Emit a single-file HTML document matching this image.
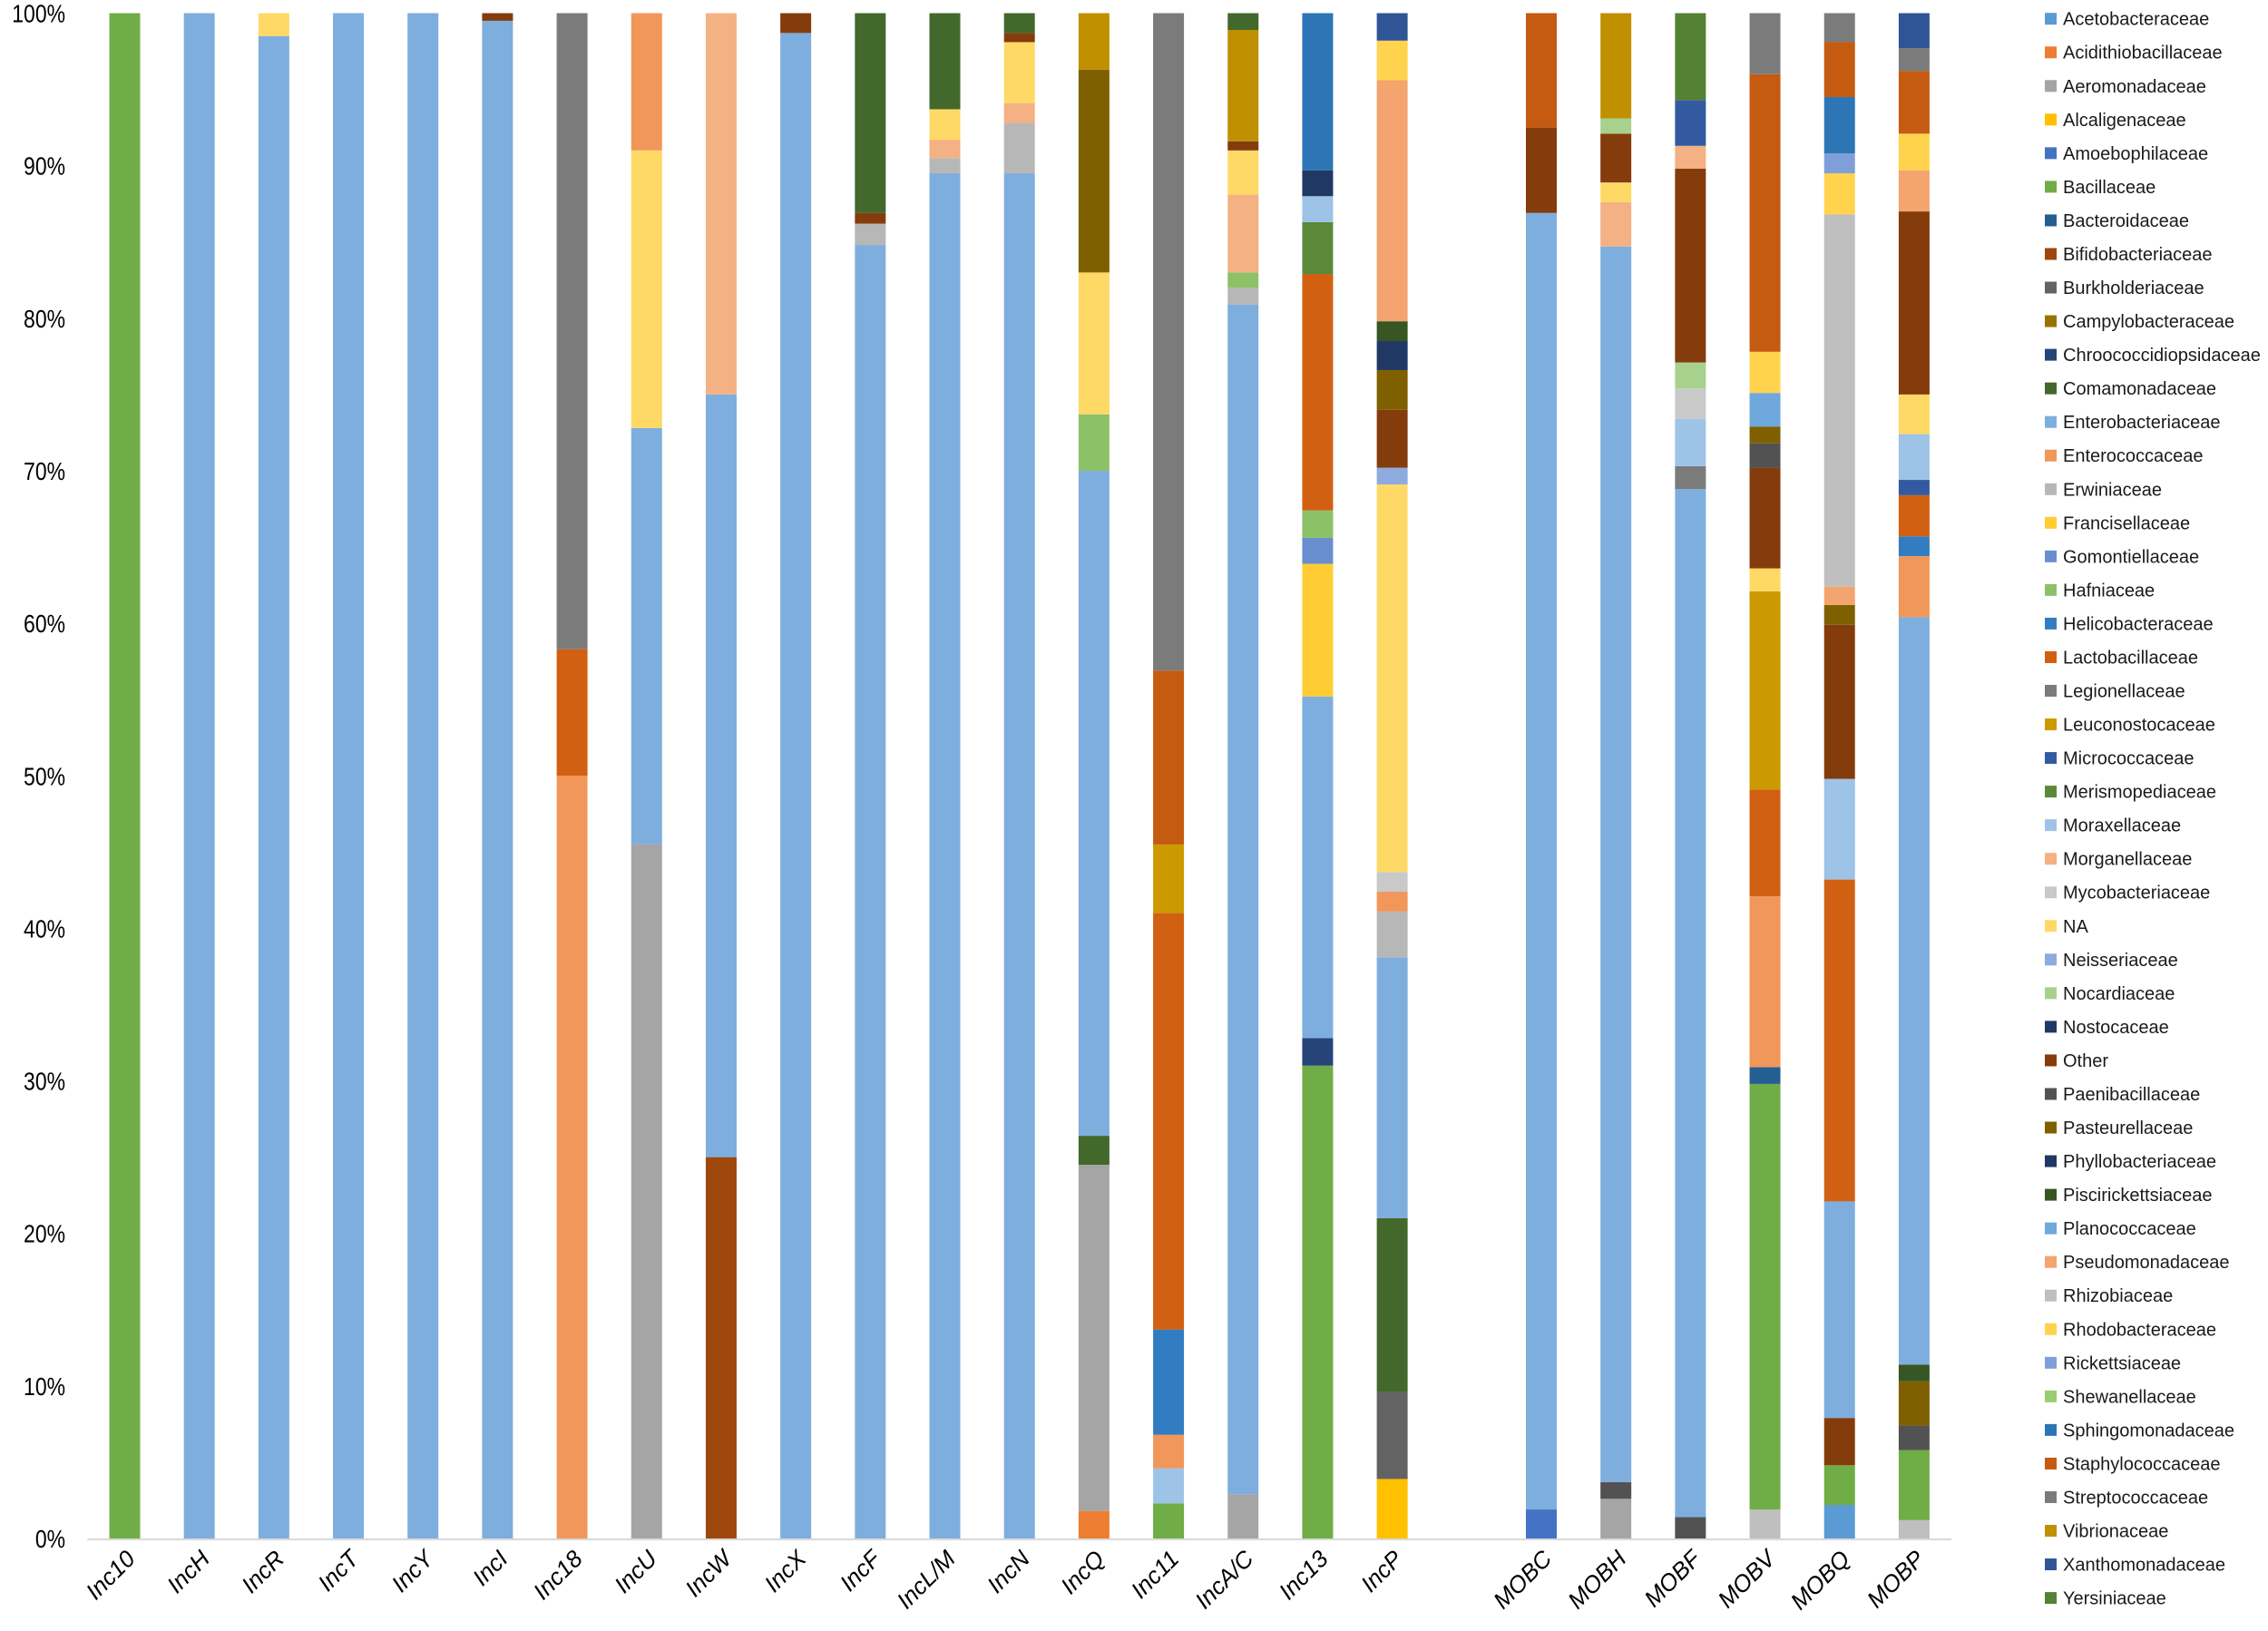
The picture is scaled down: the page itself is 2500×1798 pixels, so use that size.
<!DOCTYPE html>
<html><head><meta charset="utf-8"><style>
html,body{margin:0;padding:0;background:#fff;}
svg{display:block;font-family:"Liberation Sans",sans-serif;}
</style></head><body>
<svg id="chart" width="2500" height="1798" viewBox="0 0 2500 1798">
<g id="bars"></g>
<g id="yaxis"></g>
<g id="xaxis"></g>
<g id="legend"></g>
</svg>
<script>
const families = ["Acetobacteraceae","Acidithiobacillaceae","Aeromonadaceae","Alcaligenaceae","Amoebophilaceae","Bacillaceae","Bacteroidaceae","Bifidobacteriaceae","Burkholderiaceae","Campylobacteraceae","Chroococcidiopsidaceae","Comamonadaceae","Enterobacteriaceae","Enterococcaceae","Erwiniaceae","Francisellaceae","Gomontiellaceae","Hafniaceae","Helicobacteraceae","Lactobacillaceae","Legionellaceae","Leuconostocaceae","Micrococcaceae","Merismopediaceae","Moraxellaceae","Morganellaceae","Mycobacteriaceae","NA","Neisseriaceae","Nocardiaceae","Nostocaceae","Other","Paenibacillaceae","Pasteurellaceae","Phyllobacteriaceae","Piscirickettsiaceae","Planococcaceae","Pseudomonadaceae","Rhizobiaceae","Rhodobacteraceae","Rickettsiaceae","Shewanellaceae","Sphingomonadaceae","Staphylococcaceae","Streptococcaceae","Vibrionaceae","Xanthomonadaceae","Yersiniaceae"];
const familyColors = ["#5B9BD5","#ED7D31","#A5A5A5","#FFC000","#4472C4","#70AD47","#255E91","#9E480E","#636363","#997300","#264478","#43682B","#7EAEDD","#F1975A","#B7B7B7","#FFCD33","#698ED0","#8CC168","#327DC2","#D26012","#7B7B7B","#CC9A00","#335AA1","#5A8A39","#9DC3E6","#F4B183","#C9C9C9","#FFD966","#8FAADC","#A9D18E","#203864","#843C0C","#525252","#7F6000","#1F3864","#375623","#6FA8DC","#F4A46E","#BFBFBF","#FFD34D","#7F9FD9","#9ACD70","#2E75B6","#C55A11","#7B7B7B","#BF9000","#2F5597","#548235"];
const categories = ["Inc10","IncH","IncR","IncT","IncY","IncI","Inc18","IncU","IncW","IncX","IncF","IncL/M","IncN","IncQ","Inc11","IncA/C","Inc13","IncP","","MOBC","MOBH","MOBF","MOBV","MOBQ","MOBP"];
const segFamilies = [
 ["Bacillaceae"],
 ["Enterobacteriaceae"],
 ["Enterobacteriaceae","NA"],
 ["Enterobacteriaceae"],
 ["Enterobacteriaceae"],
 ["Enterobacteriaceae","Other"],
 ["Enterococcaceae","Lactobacillaceae","Legionellaceae"],
 ["Aeromonadaceae","Enterobacteriaceae","NA","Enterococcaceae"],
 ["Bifidobacteriaceae","Enterobacteriaceae","Morganellaceae"],
 ["Enterobacteriaceae","Other"],
 ["Enterobacteriaceae","Erwiniaceae","Other","Comamonadaceae"],
 ["Enterobacteriaceae","Erwiniaceae","Morganellaceae","NA","Comamonadaceae"],
 ["Enterobacteriaceae","Erwiniaceae","Morganellaceae","NA","Other","Comamonadaceae"],
 ["Acidithiobacillaceae","Aeromonadaceae","Comamonadaceae","Enterobacteriaceae","Hafniaceae","NA","Pasteurellaceae","Vibrionaceae"],
 ["Bacillaceae","Moraxellaceae","Enterococcaceae","Helicobacteraceae","Lactobacillaceae","Leuconostocaceae","Staphylococcaceae","Legionellaceae"],
 ["Aeromonadaceae","Enterobacteriaceae","Erwiniaceae","Hafniaceae","Morganellaceae","NA","Other","Vibrionaceae","Comamonadaceae"],
 ["Bacillaceae","Chroococcidiopsidaceae","Enterobacteriaceae","Francisellaceae","Gomontiellaceae","Hafniaceae","Lactobacillaceae","Merismopediaceae","Moraxellaceae","Nostocaceae","Sphingomonadaceae"],
 ["Alcaligenaceae","Burkholderiaceae","Comamonadaceae","Enterobacteriaceae","Erwiniaceae","Enterococcaceae","Mycobacteriaceae","NA","Neisseriaceae","Other","Pasteurellaceae","Phyllobacteriaceae","Piscirickettsiaceae","Pseudomonadaceae","Rhodobacteraceae","Xanthomonadaceae"],
 [],
 ["Amoebophilaceae","Enterobacteriaceae","Other","Staphylococcaceae"],
 ["Aeromonadaceae","Paenibacillaceae","Enterobacteriaceae","Morganellaceae","NA","Other","Nocardiaceae","Vibrionaceae"],
 ["Paenibacillaceae","Enterobacteriaceae","Legionellaceae","Moraxellaceae","Mycobacteriaceae","Nocardiaceae","Other","Morganellaceae","Micrococcaceae","Yersiniaceae"],
 ["Rhizobiaceae","Bacillaceae","Bacteroidaceae","Enterococcaceae","Lactobacillaceae","Leuconostocaceae","NA","Other","Paenibacillaceae","Pasteurellaceae","Planococcaceae","Rhodobacteraceae","Staphylococcaceae","Streptococcaceae"],
 ["Acetobacteraceae","Bacillaceae","Other","Enterobacteriaceae","Lactobacillaceae","Moraxellaceae","Other","Pasteurellaceae","Pseudomonadaceae","Rhizobiaceae","Rhodobacteraceae","Rickettsiaceae","Sphingomonadaceae","Staphylococcaceae","Streptococcaceae"],
 ["Rhizobiaceae","Bacillaceae","Paenibacillaceae","Pasteurellaceae","Piscirickettsiaceae","Enterobacteriaceae","Enterococcaceae","Helicobacteraceae","Lactobacillaceae","Micrococcaceae","Moraxellaceae","NA","Other","Pseudomonadaceae","Rhodobacteraceae","Staphylococcaceae","Streptococcaceae","Xanthomonadaceae"]
];
const segValues = [
 [100],
 [100],
 [98.5,1.5],
 [100],
 [100],
 [99.5,0.5],
 [50,8.3,41.7],
 [45.5,27.3,18.2,9],
 [25,50,25],
 [98.7,1.3],
 [84.8,1.4,0.7,13.1],
 [89.5,1,1.2,2,6.3],
 [89.5,3.3,1.3,4,0.6,1.3],
 [1.8,22.7,1.9,43.6,3.7,9.3,13.3,3.7],
 [2.3,2.3,2.2,6.9,27.3,4.5,11.4,43.1],
 [2.9,78,1.1,1,5.1,2.9,0.6,7.3,1.1],
 [31,1.8,22.4,8.7,1.7,1.8,15.5,3.4,1.7,1.7,10.3],
 [3.9,5.7,11.4,17.1,3,1.3,1.3,25.4,1.1,3.8,2.6,1.9,1.3,15.8,2.6,1.8],
 [],
 [1.9,85,5.6,7.5],
 [2.6,1.1,81,2.9,1.3,3.2,1,6.9],
 [1.4,67.4,1.5,3.1,2,1.7,12.7,1.5,3,5.7],
 [1.9,27.9,1.1,11.2,7,13,1.5,6.6,1.6,1.1,2.2,2.7,18.2,4],
 [2.2,2.6,3.1,14.2,21.1,6.6,10.1,1.3,1.2,24.4,2.7,1.3,3.7,3.6,1.9],
 [1.2,4.6,1.6,2.9,1.1,49,4,1.3,2.7,1,3,2.6,12,2.7,2.4,4.1,1.5,2.3]
];
const yTicks = [0,10,20,30,40,50,60,70,80,90,100];
const yTickLabels = ["0%","10%","20%","30%","40%","50%","60%","70%","80%","90%","100%"];

const NS="http://www.w3.org/2000/svg";
const plotL=96.4, plotR=2151, plotT=14.5, plotB=1696;
const step=(plotR-plotL)/categories.length, barW=34;
function yScale(v){return plotB-v/100*(plotB-plotT);}
function xCenter(i){return plotL+step*(i+0.5);}
function mk(tag,attrs,parent){const e=document.createElementNS(NS,tag);for(const k in attrs)e.setAttribute(k,attrs[k]);parent.appendChild(e);return e;}

const bars=document.getElementById('bars');
categories.forEach((c,i)=>{
  let cum=0;
  segValues[i].forEach((v,j)=>{
    const fam=segFamilies[i][j];
    const y0=yScale(cum), y1=yScale(cum+v);
    const r=mk('rect',{x:xCenter(i)-barW/2,y:y1,width:barW,height:y0-y1,fill:familyColors[families.indexOf(fam)]},bars);
    
    
    cum+=v;
  });
});

const ya=document.getElementById('yaxis');
yTicks.forEach((t,i)=>{
  const g=mk('g',{transform:`translate(72,${yScale(t)+10}) scale(0.82,1)`},ya);
  const tx=mk('text',{x:0,y:0,'text-anchor':'end','font-size':'28',fill:'#000'},g);
  tx.textContent=yTickLabels[i];
  
  
});
const base=mk('line',{x1:plotL,x2:plotR,y1:plotB+1,y2:plotB+1,stroke:'#D9D9D9','stroke-width':2},ya);



const xa=document.getElementById('xaxis');
categories.forEach((c,i)=>{
  if(!c)return;
  const tx=mk('text',{transform:`translate(${xCenter(i)+13},1720) rotate(-45)`,'text-anchor':'end','font-size':'26','font-style':'italic',fill:'#000'},xa);
  tx.textContent=c;
  
  
});

const lg=document.getElementById('legend');
families.forEach((f,i)=>{
  const y=20.7+i*37.04;
  const g=mk('g',{},lg);
  
  
  mk('rect',{x:2254,y:y-6.5,width:13,height:13,fill:familyColors[i]},g);
  const tx=mk('text',{x:2274,y:y+7,'font-size':'20',fill:'#1a1a1a'},g);
  tx.textContent=f;
});
</script>
</body></html>
